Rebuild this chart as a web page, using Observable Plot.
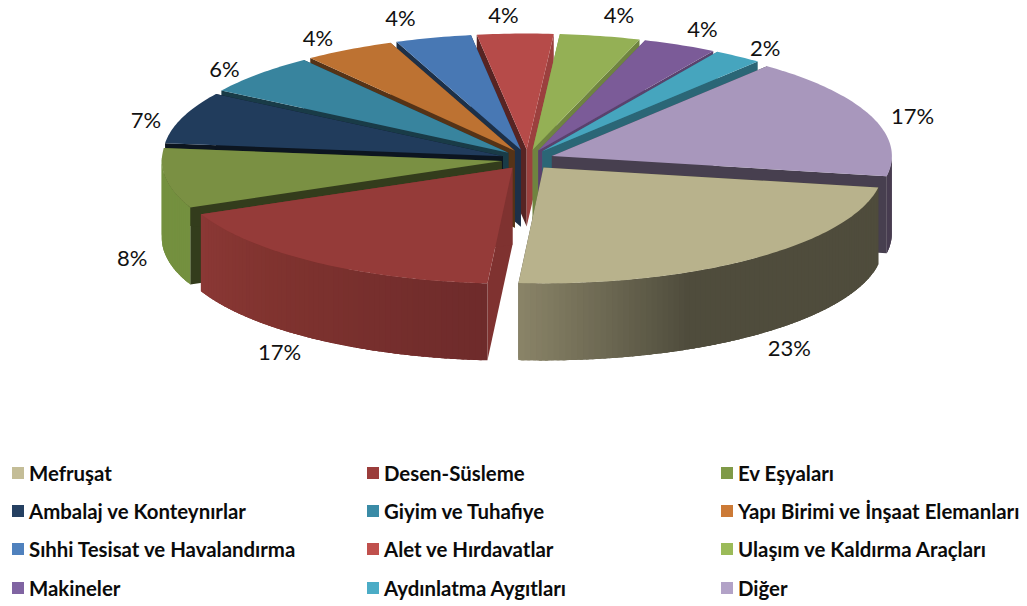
<!DOCTYPE html>
<html><head><meta charset="utf-8">
<script src="https://cdn.jsdelivr.net/npm/d3@7"></script>
<script src="https://cdn.jsdelivr.net/npm/@observablehq/plot@0.6"></script>
<style>
html,body{margin:0;padding:0;background:#fff}
#chart svg{display:block}
#legend{position:absolute;left:0;top:454px;width:1027px;height:152px;font:bold 20.4px Lato,sans-serif;color:#0b0b0b}
#legend div{position:absolute;white-space:nowrap;line-height:38px;height:38px}
#legend i{position:absolute;left:0;top:13px;width:12px;height:12px}
#legend span{position:absolute;left:17px;top:0}
</style></head><body>
<div id="chart"></div><div id="legend"></div>
<script>
const names = ["Mefruşat","Desen-Süsleme","Ev Eşyaları","Ambalaj ve Konteynırlar","Giyim ve Tuhafiye","Yapı Birimi ve İnşaat Elemanları","Sıhhi Tesisat ve Havalandırma","Alet ve Hırdavatlar","Ulaşım ve Kaldırma Araçları","Makineler","Aydınlatma Aygıtları","Diğer"];
const shares = [23.3,17.2,8.3,7.2,5.7,4.3,3.6,3.6,3.8,3.5,2.3,16.8];
const topColors = ["#b8b28c","#953b39","#7a9043","#213c5c","#38849e","#bd7232","#4878b4","#b64b49","#94b055","#7b5b98","#46a5be","#a897bc"];
const legendColors = ["#c4bd97","#9b3d3b","#7f9a48","#254061","#3a8ba6","#cc7a36","#4f81bd","#c0504d","#9bbb59","#8064a2","#4bacc6","#b2a2c7"];
const startShade = [.4,.85,.42,.35,.45,.45,.4,.48,.85,.8,.7,.42];
const endShade = [.4,.85,.42,.35,.45,.45,.4,.85,.75,.72,.62,.42];
const wallColors = [
  ["#4f4c3c","#4f4c3c","#8a8468"],
  ["#6e2b2b","#80332f","#8b3835"],
  ["#74903f","#74903f","#74903f"],
  null,null,null,null,null,null,null,null,
  ["#483d50","#483d50","#483d50"]
];
// small label placement corrections, one per slice
const labelDx = [7,-8,15,10,2,-7,-20,-10,9,2,-1,-4];
const labelDy = [0,0,0,0,4,3,-2,0,-3,0,5,-2];

// projection of the tilted, exploded pie
const cx=527, cy=159, rx=340, ry=116, depth=77, ex=26, ey=10, firstAngle=10;
const rad=Math.PI/180, total=d3.sum(shares);
let acc=firstAngle;
const wedges=shares.map((v,i)=>{
  const a0=acc, a1=acc+v/total*360; acc=a1;
  const m=(a0+a1)/2;
  return {i,a0,a1,m,ax:cx+ex*Math.cos(m*rad),ay:cy+ey*Math.sin(m*rad)};
});
const polys=[]; let id=0;
function poly(pts,c,w){const k=id++;[...pts,pts[0]].forEach(p=>polys.push({x:p[0],y:p[1],id:k,c}));}
const shade=(c,k)=>{const o=d3.rgb(c);return d3.rgb(o.r*k,o.g*k,o.b*k).formatHex();};
wedges.slice().sort((a,b)=>Math.sin(a.m*rad)-Math.sin(b.m*rad)).forEach(w=>{
  const rim=t=>[w.ax+rx*Math.cos(t*rad),w.ay+ry*Math.sin(t*rad)];
  const base=topColors[w.i];
  const s=rim(w.a0), e=rim(w.a1);
  poly([[w.ax,w.ay],s,[s[0],s[1]+depth],[w.ax,w.ay+depth]],shade(base,startShade[w.i]));
  poly([[w.ax,w.ay],e,[e[0],e[1]+depth],[w.ax,w.ay+depth]],shade(base,endShade[w.i]));
  const wc=wallColors[w.i]||[shade(base,.7),shade(base,.7),shade(base,.7)];
  const ramp=d3.scaleLinear().domain([0,.65,1]).range(wc);
  const n=Math.ceil(w.a1-w.a0);
  // wall strips overlap the next strip so that no seam shows between them
  for(let j=0;j<n;j++){
    const t0=w.a0+(w.a1-w.a0)*j/n;
    const t1=j===n-1?w.a1:w.a0+(w.a1-w.a0)*Math.min(j+2.5,n)/n;
    if(Math.sin((t0+w.a0+(w.a1-w.a0)*(j+1)/n)/2*rad)<-0.02) continue;
    const pts=[];
    for(let u=0;u<=4;u++) pts.push(rim(t0+(t1-t0)*u/4));
    const low=pts.slice().reverse().map(p=>[p[0],p[1]+depth]);
    poly([...pts,...low],d3.color(ramp((j+.5)/n)).formatHex());
  }
  const top=[[w.ax,w.ay]];
  for(let j=0;j<=n;j++) top.push(rim(w.a0+(w.a1-w.a0)*j/n));
  poly(top,base);
});
const labels=wedges.map(w=>{
  const c=Math.cos(w.m*rad), s=Math.sin(w.m*rad);
  return {x:cx+415*c+labelDx[w.i],y:(s>0?cy+141*s+78:cy+158*s+14)+labelDy[w.i],t:Math.round(shares[w.i])+"%"};
});

const plot=Plot.plot({
  width:1027,height:454,margin:0,
  x:{domain:[0,1027],range:[0,1027],axis:null},
  y:{domain:[0,454],range:[0,454],axis:null},
  color:{type:"identity"},
  marks:[
    Plot.line(polys,{x:"x",y:"y",z:"id",fill:"c",curve:"linear",stroke:null}),
    Plot.text(labels,{x:"x",y:"y",text:"t",fontSize:22,fontFamily:"Lato, sans-serif",fill:"#111"})
  ]
});
document.getElementById("chart").append(plot);

const colX=[12,367,721], rowY=[0,38,76,115];
const leg=document.getElementById("legend");
names.forEach((n,i)=>{
  const d=document.createElement("div");
  d.style.left=colX[i%3]+"px"; d.style.top=rowY[Math.floor(i/3)]+"px";
  d.innerHTML=`<i style="background:${legendColors[i]}"></i><span>${n}</span>`;
  leg.append(d);
});
</script></body></html>
